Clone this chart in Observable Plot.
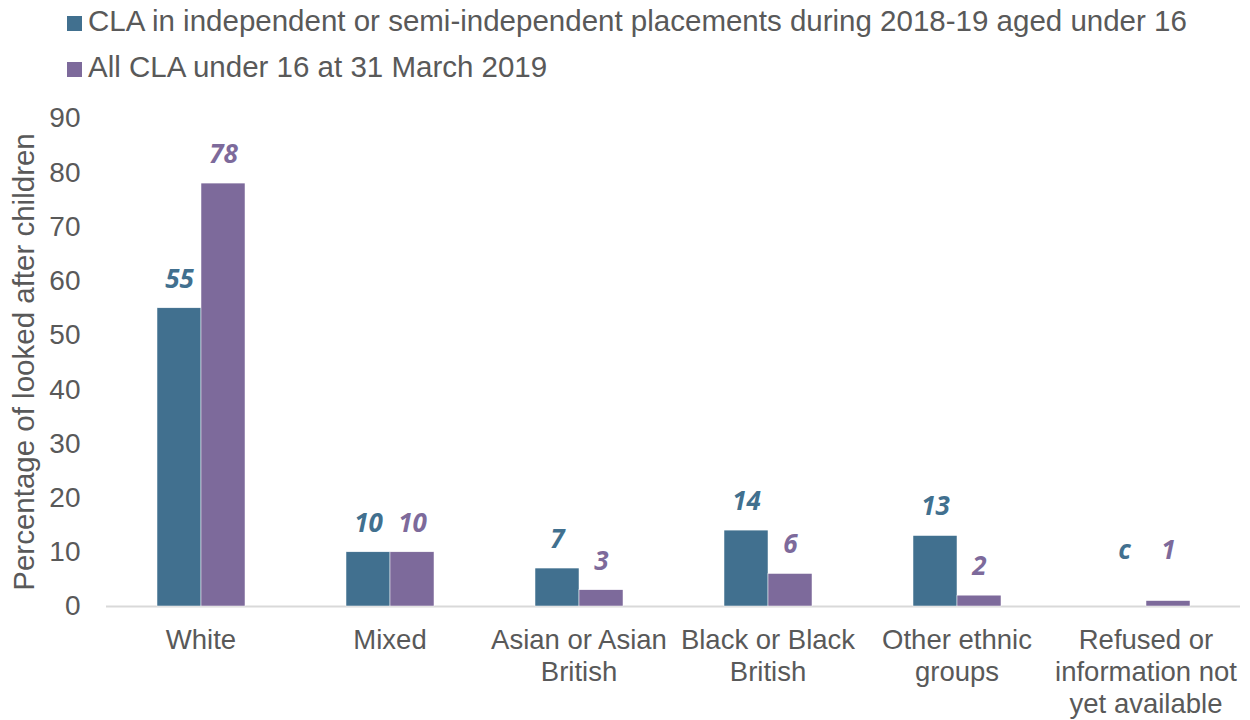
<!DOCTYPE html>
<html>
<head>
<meta charset="utf-8">
<script src="https://cdn.jsdelivr.net/npm/d3@7"></script>
<script src="https://cdn.jsdelivr.net/npm/@observablehq/plot@0.6"></script>
<style>
  html, body { margin: 0; padding: 0; background: white; }
  #wrap { position: relative; width: 1250px; height: 720px; font-family: "Liberation Sans", Arial, sans-serif; color: #595959; overflow: hidden; }
  #legend { position: absolute; left: 67px; top: 0; }
  .item { position: absolute; left: 0; white-space: nowrap; font-size: 29.5px; line-height: 34px; }
  .sw { display: inline-block; width: 15px; height: 15px; margin-right: 6px; vertical-align: 0; }
  #chart { position: absolute; left: 0; top: 90px; }
  #ylabel { position: absolute; left: 24px; top: 362px; transform: translate(-50%, -50%) rotate(-90deg); white-space: nowrap; font-size: 29.5px; line-height: 30px; }
</style>
</head>
<body>
<div id="wrap">
  <div id="legend"></div>
  <div id="chart"></div>
  <div id="ylabel"></div>
</div>
<script>
const categories = ["White", "Mixed", "Asian or Asian\nBritish", "Black or Black\nBritish", "Other ethnic\ngroups", "Refused or\ninformation not\nyet available"];
const seriesNames = ["CLA in independent or semi-independent placements during 2018-19 aged under 16", "All CLA under 16 at 31 March 2019"];
const independentValues = [55, 10, 7, 14, 13, null];
const independentLabels = ["55", "10", "7", "14", "13", "c"];
const allValues = [78, 10, 3, 6, 2, 1];
const allLabels = ["78", "10", "3", "6", "2", "1"];
const yTicks = [0, 10, 20, 30, 40, 50, 60, 70, 80, 90];
const yTitle = "Percentage of looked after children";
const colors = ["#41708f", "#7d6a9b"];

const data = [];
categories.forEach((c, i) => {
  data.push({category: c, series: seriesNames[0], value: independentValues[i], label: independentLabels[i]});
  data.push({category: c, series: seriesNames[1], value: allValues[i], label: allLabels[i]});
});

// legend
const legend = document.getElementById("legend");
seriesNames.forEach((s, i) => {
  const d = document.createElement("div");
  d.className = "item";
  d.style.top = (4 + i * 46) + "px";
  d.innerHTML = `<span class="sw" style="background:${colors[i]}"></span>${s}`;
  legend.appendChild(d);
});
document.getElementById("ylabel").textContent = yTitle;

const chart = Plot.plot({
  width: 1250,
  height: 630,
  marginTop: 28,
  marginBottom: 114,
  marginLeft: 105,
  marginRight: 10,
  style: {fontFamily: "Liberation Sans, Arial, sans-serif", fontSize: "28px", color: "#595959", background: "white", overflow: "visible"},
  fx: {domain: categories, padding: 0, label: null},
  x: {domain: seriesNames, paddingInner: 0, paddingOuter: 1.12, axis: null},
  y: {domain: [0, 90]},
  color: {domain: seriesNames, range: colors},
  marks: [
    Plot.axisY({ticks: yTicks, tickSize: 0, tickPadding: 26, fontSize: 28, label: null}),
    Plot.axisFx({anchor: "bottom", tickSize: 0, tickPadding: 20, fontSize: 27.5, lineHeight: 1.164, label: null}),
    Plot.ruleY([0], {stroke: "#d9d9d9", strokeWidth: 2}),
    Plot.barY(data, {fx: "category", x: "series", y: "value", fill: "series", stroke: "white", strokeWidth: 0.5}),
    Plot.text(data, {
      fx: "category", x: "series",
      y: d => (d.value == null || d.value < 2) ? 5 : d.value,
      text: "label", fill: "series", dy: -29,
      fontWeight: "bold", fontStyle: "italic", fontFamily: "Open Sans, sans-serif", fontSize: 26
    })
  ]
});
document.getElementById("chart").appendChild(chart);
</script>
</body>
</html>
